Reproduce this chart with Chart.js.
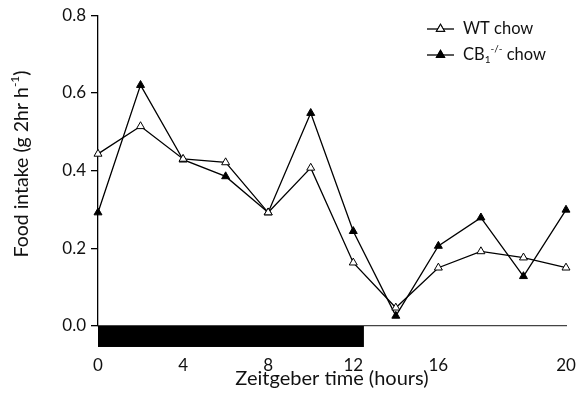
<!DOCTYPE html>
<html>
<head>
<meta charset="utf-8">
<script src="https://cdn.jsdelivr.net/npm/chart.js@4.4.0/dist/chart.umd.min.js"></script>
<style>
html,body{margin:0;padding:0;background:#fff;}
#wrap{width:576px;height:397px;}
</style>
</head>
<body>
<div id="wrap"><canvas id="c" width="576" height="397"></canvas></div>
<script>
// Category positions (two-hour bins), tick labels shown under selected bins
const categories = ["0", "2", "4", "6", "8", "10", "12", "14", "16", "17.5", "19", "20"];
const tickLabels = ["0", "", "4", "", "8", "", "12", "", "16", "", "", "20"];
const wtChow = [0.443, 0.514, 0.43, 0.421, 0.292, 0.407, 0.163, 0.047, 0.150, 0.192, 0.176, 0.150];
const cb1Chow = [0.292, 0.620, 0.428, 0.385, 0.292, 0.548, 0.244, 0.026, 0.206, 0.279, 0.128, 0.299];
const yTicks = [0.0, 0.2, 0.4, 0.6, 0.8];
const darkPhase = [0, 6.25];      // start / end in category index units
const darkBarDepth = 0.054;       // bar drawn below zero, in y units

const FONT = 'Lato, "Open Sans", sans-serif';

const extras = {
  id: 'extras',
  afterDraw(chart) {
    const ctx = chart.ctx;
    const x = chart.scales.x, y = chart.scales.y;
    // dark phase bar
    const x0 = x.getPixelForValue(darkPhase[0]);
    const x1 = x.getPixelForValue(darkPhase[1]);
    const y0 = y.getPixelForValue(0);
    const y1 = y.getPixelForValue(-darkBarDepth);
    ctx.save();
    ctx.fillStyle = '#000';
    ctx.fillRect(x0, y0, x1 - x0, y1 - y0);
    ctx.restore();

    // y axis title with superscript
    ctx.save();
    ctx.translate(22, 164);
    ctx.rotate(-Math.PI / 2);
    ctx.fillStyle = '#111';
    ctx.textBaseline = 'middle';
    const main = 'Food intake (g 2hr h';
    const sup = '-1';
    const end = ')';
    ctx.font = '19.5px ' + FONT;
    const wMain = ctx.measureText(main).width;
    const wEnd = ctx.measureText(end).width;
    ctx.font = '12px ' + FONT;
    const wSup = ctx.measureText(sup).width;
    const total = wMain + wSup + wEnd;
    let cx = -total / 2;
    ctx.textAlign = 'left';
    ctx.font = '19.5px ' + FONT;
    ctx.fillText(main, cx, 0);
    cx += wMain;
    ctx.font = '12px ' + FONT;
    ctx.fillText(sup, cx, -7);
    cx += wSup;
    ctx.font = '19.5px ' + FONT;
    ctx.fillText(end, cx, 0);
    ctx.restore();

    // legend
    const rows = [
      {ds: 0, y: 29, parts: [['WT chow', 16.5, 0]]},
      {ds: 1, y: 55, parts: [['CB', 16.5, 0], ['1', 10, 5], ['-/-', 10, -6], [' chow', 16.5, 0]]}
    ];
    rows.forEach(r => {
      const dset = chart.data.datasets[r.ds];
      ctx.save();
      ctx.strokeStyle = '#000';
      ctx.lineWidth = 1.3;
      ctx.beginPath();
      ctx.moveTo(427, r.y);
      ctx.lineTo(454, r.y);
      ctx.stroke();
      Chart.helpers.drawPoint(ctx, {pointStyle: 'triangle', radius: 4.6, borderWidth: 1, rotation: 0}, 440.5, r.y);
      ctx.fillStyle = dset.pointBackgroundColor;
      ctx.strokeStyle = '#000';
      ctx.lineWidth = 1;
      ctx.fill();
      ctx.stroke();
      ctx.fillStyle = '#111';
      ctx.textBaseline = 'middle';
      ctx.textAlign = 'left';
      let tx = 463;
      r.parts.forEach(p => {
        ctx.font = p[1] + 'px ' + FONT;
        ctx.fillText(p[0], tx, r.y + p[2]);
        tx += ctx.measureText(p[0]).width;
      });
      ctx.restore();
    });
  }
};

new Chart(document.getElementById('c'), {
  type: 'line',
  data: {
    labels: categories,
    datasets: [
      {
        label: 'WT chow',
        data: wtChow,
        borderColor: '#000',
        borderWidth: 1.3,
        pointStyle: 'triangle',
        pointRadius: 4.6,
        pointBorderWidth: 1,
        pointBackgroundColor: '#fff',
        pointBorderColor: '#000',
        tension: 0,
        fill: false
      },
      {
        label: 'CB1-/- chow',
        data: cb1Chow,
        borderColor: '#000',
        borderWidth: 1.3,
        pointStyle: 'triangle',
        pointRadius: 4.6,
        pointBorderWidth: 1,
        pointBackgroundColor: '#000',
        pointBorderColor: '#000',
        tension: 0,
        fill: false
      }
    ]
  },
  options: {
    responsive: false,
    animation: false,
    devicePixelRatio: 1,
    layout: {padding: {left: 0, right: 10, top: 14, bottom: 0}},
    plugins: {legend: {display: false}, tooltip: {enabled: false}},
    scales: {
      x: {
        type: 'category',
        offset: false,
        grid: {display: false, drawTicks: false},
        border: {display: true, color: '#444', width: 1.3},
        ticks: {
          autoSkip: false,
          maxRotation: 0,
          padding: 29,
          color: '#111',
          font: {family: FONT, size: 17},
          callback: (v, i) => tickLabels[i]
        },
        title: {
          display: true,
          text: 'Zeitgeber time (hours)',
          color: '#111',
          font: {family: FONT, size: 20},
          padding: {top: 0, bottom: 6}
        },
        afterFit: s => { s.height = 71; s.paddingLeft = 0; s.paddingRight = 0; }
      },
      y: {
        min: 0,
        max: 0.8,
        afterBuildTicks: s => { s.ticks = yTicks.map(v => ({value: v})); },
        grid: {display: true, drawOnChartArea: false, drawTicks: true, tickLength: 7, color: '#000', lineWidth: 1.3},
        border: {display: true, color: '#000', width: 1.3},
        ticks: {
          padding: 5,
          color: '#111',
          font: {family: FONT, size: 17},
          callback: v => Number(v).toFixed(1)
        },
        afterFit: s => { s.width = 98; }
      }
    }
  },
  plugins: [extras]
});
</script>
</body>
</html>
